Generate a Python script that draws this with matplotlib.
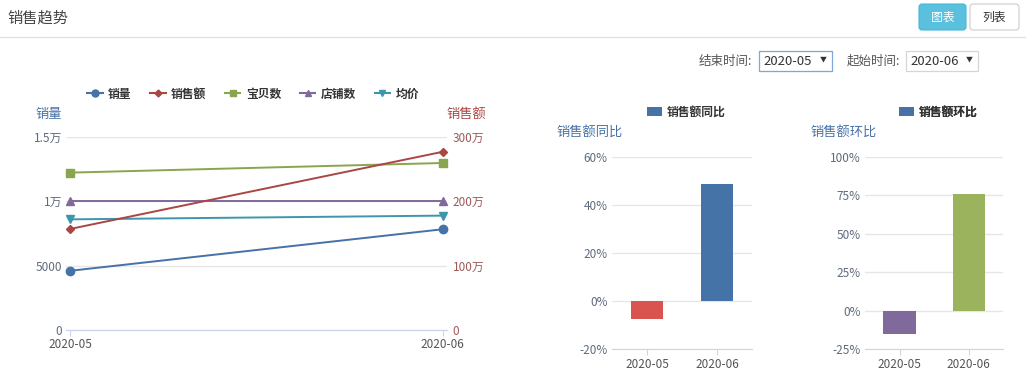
import matplotlib

matplotlib.use("Agg")

import matplotlib.pyplot as plt
from matplotlib.lines import Line2D
from matplotlib.patches import FancyBboxPatch, Patch, Rectangle

plt.rcParams["font.family"] = ["Noto Sans CJK SC", "DejaVu Sans"]

W, H = 1026, 392

# ---- data ----
months = ["2020-05", "2020-06"]
sales_qty = [4600, 7830]
sales_amt = [1570000, 2770000]
item_count = [12230, 12980]
shop_count = [10000, 10000]
avg_price = [8600, 8890]

left_ticks = [0, 5000, 10000, 15000]
left_tick_labels = ["0", "5000", "1万", "1.5万"]
right_ticks = [0, 1000000, 2000000, 3000000]
right_tick_labels = ["0", "100万", "200万", "300万"]

yoy_values = [-7.3, 48.8]
yoy_colors = ["#d9534f", "#4572a7"]
yoy_ticks = [-20, 0, 20, 40, 60]

mom_values = [-15.3, 75.7]
mom_colors = ["#80699b", "#9bb35d"]
mom_ticks = [-25, 0, 25, 50, 75, 100]

BLUE = "#4572a7"
RED = "#aa4643"
GREEN = "#89a54e"
PURPLE = "#80699b"
TEAL = "#3d96ae"
GRID = "#e6e6e6"
AXIS = "#ccd6eb"
TICK_TEXT = "#5f6b7d"


def px_axes(fig, x0, y0, x1, y1, **kw):
    return fig.add_axes([x0 / W, 1 - y1 / H, (x1 - x0) / W, (y1 - y0) / H], **kw)


fig = plt.figure(figsize=(W / 100, H / 100), dpi=100)
fig.patch.set_facecolor("white")

# overlay in pixel coordinates for page decorations
ov = px_axes(fig, 0, 0, W, H)
ov.set_xlim(0, W)
ov.set_ylim(H, 0)
ov.axis("off")
ov.patch.set_alpha(0)

ov.text(7, 18, "销售趋势", fontsize=11, color="#444444", va="center", ha="left")
ov.plot([0, W], [36.5, 36.5], color="#e3e3e3", linewidth=1)

ov.add_patch(FancyBboxPatch((919, 4), 47, 26, boxstyle="round,pad=0,rounding_size=3",
                            facecolor="#5bc0de", edgecolor="#46b8da", linewidth=0.8))
ov.text(942.5, 17, "图表", fontsize=8.5, color="white", ha="center", va="center")
ov.add_patch(FancyBboxPatch((970, 4), 49, 26, boxstyle="round,pad=0,rounding_size=3",
                            facecolor="white", edgecolor="#cccccc", linewidth=0.8))
ov.text(994.5, 17, "列表", fontsize=8.5, color="#333333", ha="center", va="center")

ov.text(752, 61, "结束时间:", fontsize=9, color="#555555", ha="right", va="center")
ov.add_patch(Rectangle((759, 51), 73, 20, facecolor="white", edgecolor="#7ea6d8", linewidth=0.9))
ov.text(763, 61, "2020-05", fontsize=9.5, color="#333333", ha="left", va="center")
ov.text(823, 60, "▼", fontsize=5, color="#333333", ha="center", va="center")
ov.text(900, 61, "起始时间:", fontsize=9, color="#555555", ha="right", va="center")
ov.add_patch(Rectangle((906, 51), 72, 20, facecolor="white", edgecolor="#d5d5d5", linewidth=0.9))
ov.text(910, 61, "2020-06", fontsize=9.5, color="#333333", ha="left", va="center")
ov.text(969, 60, "▼", fontsize=5, color="#333333", ha="center", va="center")

# ---- line chart ----
ax = px_axes(fig, 66, 137, 447, 330)
x = list(range(len(months)))
ax.set_xlim(-0.0107, 1.0115)
ax.set_ylim(0, 15000)
axr = ax.twinx()
axr.set_ylim(0, 3000000)

ax.plot(x, sales_qty, color=BLUE, lw=1.4, marker="o", ms=6, clip_on=False, zorder=5)
axr.plot(x, sales_amt, color=RED, lw=1.4, marker="D", ms=4.5, clip_on=False, zorder=5)
ax.plot(x, item_count, color=GREEN, lw=1.4, marker="s", ms=5.5, clip_on=False, zorder=5)
ax.plot(x, shop_count, color=PURPLE, lw=1.4, marker="^", ms=6, clip_on=False, zorder=5)
ax.plot(x, avg_price, color=TEAL, lw=1.4, marker="v", ms=6, clip_on=False, zorder=5)

ax.set_yticks(left_ticks, left_tick_labels)
axr.set_yticks(right_ticks, right_tick_labels)
ax.set_xticks(x, months)
ax.grid(axis="y", color=GRID, linewidth=1)
ax.set_axisbelow(True)
for a in (ax, axr):
    for s in ("top", "left", "right"):
        a.spines[s].set_visible(False)
    a.spines["bottom"].set_color(AXIS)
ax.tick_params(axis="y", length=0, pad=3, labelsize=8.5, labelcolor=TICK_TEXT)
axr.tick_params(axis="y", length=0, pad=4, labelsize=8.5, labelcolor="#9b5a58")
ax.tick_params(axis="x", length=4, color=AXIS, pad=1.5, labelsize=8.5, labelcolor="#555555")
axr.tick_params(axis="x", length=0)

ov.text(35, 114, "销量", fontsize=9.5, color=BLUE, ha="left", va="center")
ov.text(446, 114, "销售额", fontsize=9.5, color=RED, ha="left", va="center")

line_handles = [
    Line2D([], [], color=BLUE, lw=1.5, marker="o", ms=5, label="销量"),
    Line2D([], [], color=RED, lw=1.5, marker="D", ms=3.5, label="销售额"),
    Line2D([], [], color=GREEN, lw=1.5, marker="s", ms=4.5, label="宝贝数"),
    Line2D([], [], color=PURPLE, lw=1.5, marker="^", ms=5, label="店铺数"),
    Line2D([], [], color=TEAL, lw=1.5, marker="v", ms=5, label="均价"),
]
leg = ov.legend(handles=line_handles, loc="center", bbox_to_anchor=(253, 94),
                bbox_transform=ov.transData, ncol=5, frameon=False,
                prop={"size": 8.5, "weight": "bold"}, handlelength=1.3,
                handletextpad=0.45, columnspacing=1.6)
for t in leg.get_texts():
    t.set_color("#333333")


# ---- bar charts ----
def bar_chart(x0, y0, x1, y1, values, colors, ticks, title, title_x, legend_x):
    b = px_axes(fig, x0, y0, x1, y1)
    pos = list(range(len(months)))
    b.bar(pos, values, width=0.465, color=colors, zorder=3)
    b.set_xlim(-0.5, 1.5)
    b.set_ylim(ticks[0], ticks[-1])
    b.set_yticks(ticks, [f"{t}%" for t in ticks])
    b.set_xticks(pos, months)
    b.grid(axis="y", color=GRID, linewidth=1)
    b.set_axisbelow(True)
    for s in ("top", "left", "right"):
        b.spines[s].set_visible(False)
    b.spines["bottom"].set_color(AXIS)
    b.tick_params(axis="y", length=0, pad=3, labelsize=8.5, labelcolor=TICK_TEXT)
    b.tick_params(axis="x", length=4, color=AXIS, pad=2.5, labelsize=8.5, labelcolor="#555555")
    ov.text(title_x, 132, title, fontsize=9.5, color=BLUE, ha="left", va="center")
    lg = ov.legend(handles=[Patch(facecolor=BLUE, label=title)], loc="center left",
                   bbox_to_anchor=(legend_x, 112), bbox_transform=ov.transData,
                   frameon=False, prop={"size": 8.5, "weight": "bold"},
                   handlelength=1.3, handleheight=0.8, handletextpad=0.4,
                   borderpad=0, borderaxespad=0)
    lg.get_texts()[0].set_color("#333333")
    ov.add_artist(lg)
    return b


ov.add_artist(leg)
bar_chart(612, 157.3, 752, 349, yoy_values, yoy_colors, yoy_ticks, "销售额同比", 556, 647)
bar_chart(865, 156.7, 1003.3, 349, mom_values, mom_colors, mom_ticks, "销售额环比", 810, 899)

fig.savefig("out.png", dpi=100, facecolor=fig.get_facecolor())
plt.close(fig)
